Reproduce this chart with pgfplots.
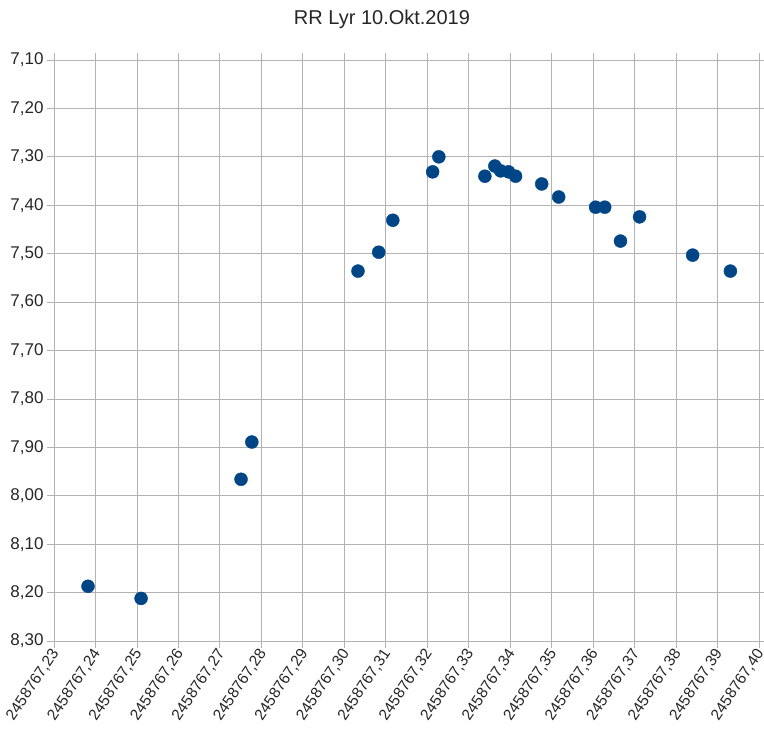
\documentclass[border=0pt]{standalone}
\usepackage{fontspec}
\setmainfont{Liberation Sans}
\usepackage{pgfplots}
\pgfplotsset{compat=1.18}
\definecolor{dotblue}{HTML}{004586}
\definecolor{gridgray}{HTML}{B3B3B3}
\begin{document}
\begin{tikzpicture}[x=1pt,y=1pt]
\useasboundingbox (0,0) rectangle (764,731);
\node[font=\fontsize{20}{24}\selectfont, text=black!85] at (382,712) {RR Lyr 10.Okt.2019};
\begin{axis}[
  at={(54pt,90pt)}, anchor=south west,
  scale only axis, width=705pt, height=581pt,
  xmin=0.23, xmax=0.40, ymin=7.1, ymax=8.3, y dir=reverse,
  xtick={0.23,0.24,0.25,0.26,0.27,0.28,0.29,0.30,0.31,0.32,0.33,0.34,0.35,0.36,0.37,0.38,0.39,0.40},
  xticklabels={{2458767,23},{2458767,24},{2458767,25},{2458767,26},{2458767,27},{2458767,28},{2458767,29},{2458767,30},{2458767,31},{2458767,32},{2458767,33},{2458767,34},{2458767,35},{2458767,36},{2458767,37},{2458767,38},{2458767,39},{2458767,40}},
  ytick={7.1,7.2,7.3,7.4,7.5,7.6,7.7,7.8,7.9,8.0,8.1,8.2,8.3},
  grid=major, major grid style={gridgray, line width=0.8pt},
  axis line style={gridgray, line width=0.8pt},
  tick style={gridgray, line width=0.8pt},
  tick align=outside, major tick length=7pt,
  /pgf/number format/assume math mode=true,
  xticklabel style={rotate=56, anchor=east, font=\fontsize{15.5}{18}\selectfont, text=black!85, xshift=2pt, yshift=-3pt},
  yticklabel style={font=\fontsize{17}{19}\selectfont, text=black!85,
    /pgf/number format/.cd, fixed, fixed zerofill, precision=2, use comma, assume math mode=true},
]
\addplot[only marks, mark=*, mark size=6.5pt, mark options={draw=dotblue, fill=dotblue}] coordinates {
(0.2382,8.187)
(0.2510,8.212)
(0.2751,7.966)
(0.2777,7.889)
(0.3033,7.536)
(0.3083,7.497)
(0.3117,7.431)
(0.3213,7.331)
(0.3228,7.300)
(0.3339,7.340)
(0.3363,7.319)
(0.3377,7.329)
(0.3396,7.331)
(0.3413,7.340)
(0.3476,7.356)
(0.3517,7.383)
(0.3606,7.404)
(0.3628,7.404)
(0.3666,7.474)
(0.3712,7.424)
(0.3840,7.503)
(0.3931,7.536)
};
\end{axis}
\end{tikzpicture}
\end{document}
